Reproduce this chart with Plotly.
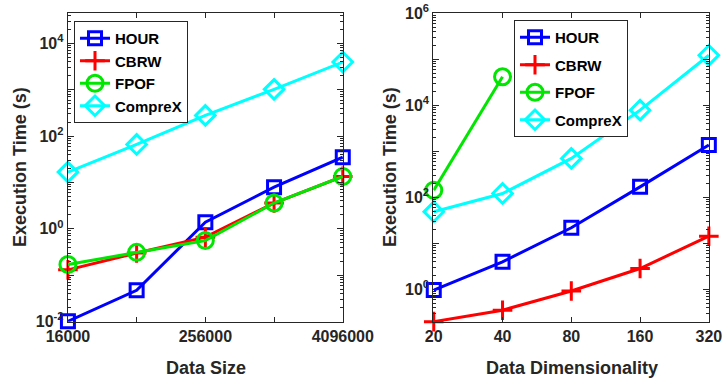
import math
import plotly.graph_objects as go

# ---------------- data ----------------
size_x = [16000, 64000, 256000, 1024000, 4096000]
size_ticktext = ["16000", "", "256000", "", "4096000"]
hour_size = [0.0101, 0.047, 1.39, 7.9, 35]
cbrw_size = [0.13, 0.30, 0.66, 3.6, 13.5]
fpof_size = [0.17, 0.31, 0.56, 3.6, 13.5]
comprex_size = [16.7, 66, 280, 1020, 3960]

dim_x = [20, 40, 80, 160, 320]
dim_ticktext = ["20", "40", "80", "160", "320"]
hour_dim = [0.97, 4.0, 22, 170, 1380]
cbrw_dim = [0.2, 0.355, 0.93, 2.86, 14.4]
fpof_dim_x = [20, 40]
fpof_dim = [144, 42000]
comprex_dim = [49, 122, 705, 7900, 123000]

left_ytickvals = [1e-2, 1e-1, 1, 10, 100, 1e3, 1e4]
left_yticktext = ["10<sup>-2</sup>", "", "10<sup>0</sup>", "", "10<sup>2</sup>", "", "10<sup>4</sup>"]
right_ytickvals = [1, 10, 100, 1e3, 1e4, 1e5, 1e6]
right_yticktext = ["10<sup>0</sup>", "", "10<sup>2</sup>", "", "10<sup>4</sup>", "", "10<sup>6</sup>"]

names = ["HOUR", "CBRW", "FPOF", "CompreX"]
colors = ["#0000FF", "#FF0000", "#00E600", "#00FFFF"]
symbols = ["square-open", "cross-thin-open", "circle-open", "diamond-open"]
msizes = [13, 14, 16, 15]

TXT = "#262626"
FONT = "Liberation Sans, Arial, sans-serif"

# body margin is removed in the page, so the figure fills the window
OFF = 0
W, H = 723 - OFF, 378 - OFF

def PX(px):
    return (px - OFF) / W

def PY(py):
    return (H - (py - OFF)) / H

fig = go.Figure()

left_series = [(size_x, hour_size), (size_x, cbrw_size), (size_x, fpof_size), (size_x, comprex_size)]
right_series = [(dim_x, hour_dim), (dim_x, cbrw_dim), (fpof_dim_x, fpof_dim), (dim_x, comprex_dim)]

for i, (xs, ys) in enumerate(left_series):
    fig.add_trace(go.Scatter(
        x=xs, y=ys, name=names[i], mode="lines+markers",
        line=dict(color=colors[i], width=3),
        marker=dict(symbol=symbols[i], size=msizes[i], color=colors[i], line=dict(width=3, color=colors[i])),
        xaxis="x", yaxis="y", legend="legend", legendgroup="L" + names[i], cliponaxis=False,
    ))
for i, (xs, ys) in enumerate(right_series):
    fig.add_trace(go.Scatter(
        x=xs, y=ys, name=names[i], mode="lines+markers",
        line=dict(color=colors[i], width=3),
        marker=dict(symbol=symbols[i], size=msizes[i], color=colors[i], line=dict(width=3, color=colors[i])),
        xaxis="x2", yaxis="y2", legend="legend2", legendgroup="R" + names[i], cliponaxis=False,
    ))

yd = [PY(321.7), PY(13.3)]
EPS = 0.002

def xax(domain, vals, text, rng, anchor):
    return dict(
        type="log", domain=domain, range=rng, anchor=anchor, automargin=False,
        tickmode="array", tickvals=vals, ticktext=text, ticklabeloverflow="allow",
        ticks="inside", ticklen=5, tickwidth=1, tickcolor=TXT,
        showline=True, linecolor=TXT, linewidth=1, mirror="allticks",
        showgrid=False, zeroline=False,
        tickfont=dict(family=FONT, size=16, color=TXT, weight="bold"),
    )

def yax(vals, text, rng, anchor, minorvals):
    return dict(
        type="log", domain=yd, range=rng, anchor=anchor, automargin=False,
        tickmode="array", tickvals=vals, ticktext=text, ticklabeloverflow="allow",
        ticks="inside", ticklen=6, tickwidth=1, tickcolor=TXT,
        showline=True, linecolor=TXT, linewidth=1, mirror="allticks",
        showgrid=False, zeroline=False,
        minor=dict(tickmode="array", tickvals=minorvals, ticks="inside", ticklen=3, tickcolor=TXT, showgrid=False),
        tickfont=dict(family=FONT, size=16, color=TXT, weight="bold"),
    )

def minor_list(lo, hi):
    out = []
    for e in range(lo, hi):
        for m in range(2, 10):
            out.append(m * 10 ** e)
    return out

fig.update_layout(
    width=W, height=H, margin=dict(l=0, r=0, t=0, b=0),
    paper_bgcolor="white", plot_bgcolor="white",
    font=dict(family=FONT, color=TXT),
    xaxis=xax([PX(67.7), PX(343)], size_x, size_ticktext,
              [math.log10(size_x[0]) - EPS, math.log10(size_x[-1]) + EPS], "y"),
    yaxis=yax(left_ytickvals, left_yticktext, [-2.005, 4.65], "x", minor_list(-2, 5)),
    xaxis2=xax([PX(433.3), PX(709.3)], dim_x, dim_ticktext,
               [math.log10(dim_x[0]) - EPS, math.log10(dim_x[-1]) + EPS], "y2"),
    yaxis2=yax(right_ytickvals, right_yticktext, [-0.7, 6.002], "x2", minor_list(-1, 6)),
    legend=dict(
        x=PX(74), y=PY(21), xanchor="left", yanchor="top",
        bgcolor="white", bordercolor=TXT, borderwidth=1,
        font=dict(family=FONT, size=15, color="black", weight="bold"),
        traceorder="grouped", tracegroupgap=0, itemwidth=30,
    ),
    legend2=dict(
        x=PX(514), y=PY(20), xanchor="left", yanchor="top",
        bgcolor="white", bordercolor=TXT, borderwidth=1,
        font=dict(family=FONT, size=15, color="black", weight="bold"),
        traceorder="grouped", tracegroupgap=5, itemwidth=30,
    ),
    annotations=[
        dict(text="Execution Time (s)", x=PX(19.5), y=PY(167.5), xref="paper", yref="paper",
             textangle=-90, showarrow=False, xanchor="center", yanchor="middle",
             font=dict(family=FONT, size=18, color=TXT, weight="bold")),
        dict(text="Execution Time (s)", x=PX(389.5), y=PY(167.5), xref="paper", yref="paper",
             textangle=-90, showarrow=False, xanchor="center", yanchor="middle",
             font=dict(family=FONT, size=18, color=TXT, weight="bold")),
        dict(text="Data Size", x=PX(205.5), y=PY(368), xref="paper", yref="paper",
             showarrow=False, xanchor="center", yanchor="middle",
             font=dict(family=FONT, size=18, color=TXT, weight="bold")),
        dict(text="Data Dimensionality", x=PX(571.5), y=PY(368), xref="paper", yref="paper",
             showarrow=False, xanchor="center", yanchor="middle",
             font=dict(family=FONT, size=18, color=TXT, weight="bold")),
    ],
)

fig.write_html("out.html", config={"displayModeBar": False},
               post_script="document.body.style.margin='0px';")
